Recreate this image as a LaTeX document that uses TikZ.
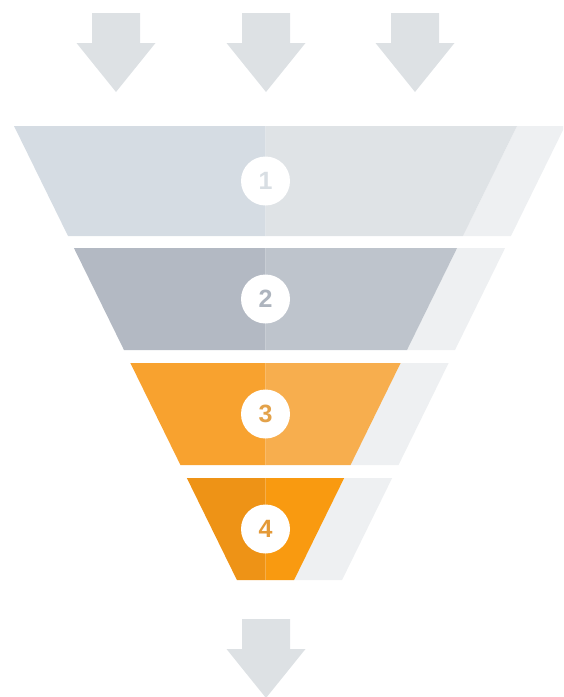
\documentclass[tikz,border=0pt]{standalone}
\usepackage{fontspec}
\setmainfont{Liberation Sans}
\definecolor{arrowc}{HTML}{DDE1E4}
\definecolor{sidec}{HTML}{EEF0F2}
\definecolor{bal}{HTML}{D5DCE3}
\definecolor{bar}{HTML}{DFE3E6}
\definecolor{bbl}{HTML}{B3B9C3}
\definecolor{bbr}{HTML}{BEC4CC}
\definecolor{bcl}{HTML}{F8A22F}
\definecolor{bcr}{HTML}{F7AE4E}
\definecolor{bdl}{HTML}{EE9316}
\definecolor{bdr}{HTML}{F99A10}
\definecolor{na}{HTML}{D8DEE3}
\definecolor{nb}{HTML}{ADB4BE}
\definecolor{nc}{HTML}{E3A24A}
\definecolor{nd}{HTML}{E49A38}
\tikzset{
  numcirc/.style={circle, fill=white, minimum size=49pt, inner sep=0pt,
    font=\fontsize{25}{25}\selectfont\bfseries},
  downarrow/.pic={\fill[arrowc] (-24,0) -- (24,0) -- (24,30) -- (39.5,30) -- (0,79) -- (-39.5,30) -- (-24,30) -- cycle;}
}
\begin{document}
\begin{tikzpicture}[x=1pt,y=-1pt]
\useasboundingbox (0,0) rectangle (563,697);
\clip (0,0) rectangle (563,697);
% input arrows
\pic at (116,13) {downarrow};
\pic at (266,13) {downarrow};
\pic at (415,13) {downarrow};
% funnel bands
\foreach \ytop/\ybot/\colL/\colR/\colN/\num in {126/236/bal/bar/na/1, 248/350/bbl/bbr/nb/2, 363/465/bcl/bcr/nc/3, 478/580/bdl/bdr/nd/4}{
  \pgfmathsetmacro\hwt{251.5-0.491*(\ytop-126)}
  \pgfmathsetmacro\hwb{251.5-0.491*(\ybot-126)}
  \pgfmathsetmacro\ymid{(\ytop+\ybot)/2}
  \fill[sidec] ({265.5+\hwt},\ytop) -- ({265.5+\hwt+48},\ytop) -- ({265.5+\hwb+48},\ybot) -- ({265.5+\hwb},\ybot) -- cycle;
  \fill[\colL] ({265.5-\hwt},\ytop) -- (265.5,\ytop) -- (265.5,\ybot) -- ({265.5-\hwb},\ybot) -- cycle;
  \fill[\colR] (265.5,\ytop) -- ({265.5+\hwt},\ytop) -- ({265.5+\hwb},\ybot) -- (265.5,\ybot) -- cycle;
  \node[numcirc, text=\colN] (c\num) at (265.5,\ymid) {\num};
}
% output arrow
\pic at (266,619) {downarrow};
\end{tikzpicture}
\end{document}
